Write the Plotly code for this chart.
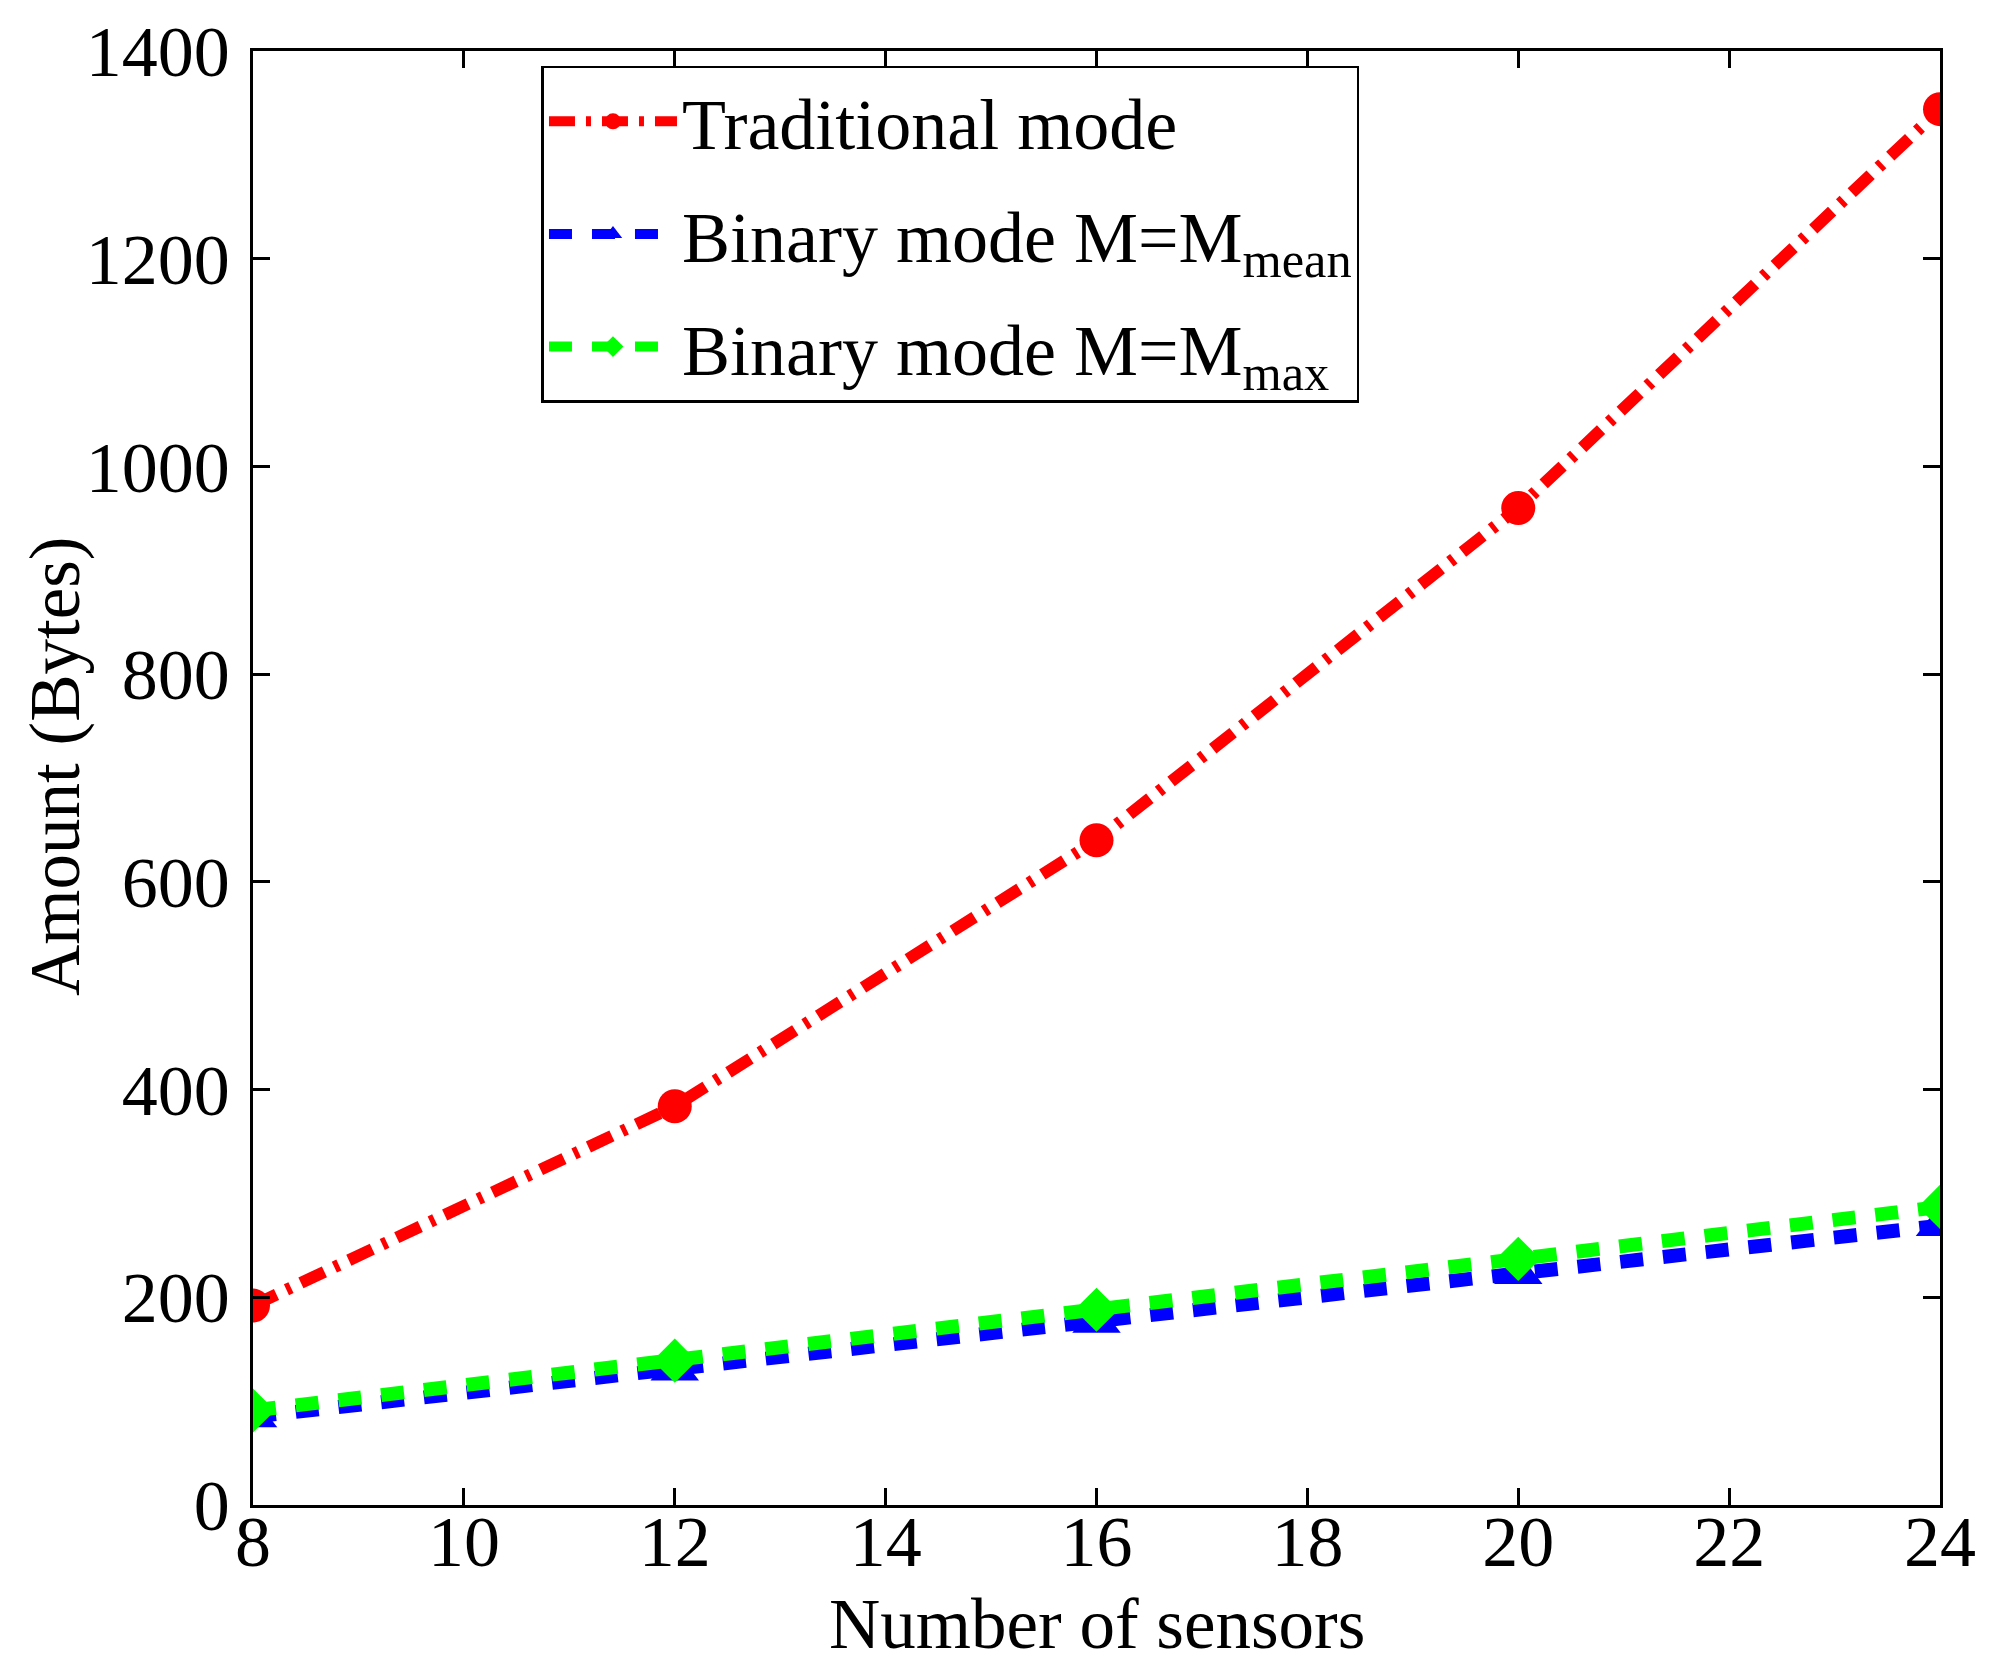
import plotly.graph_objects as go

# data
sensors = [8, 12, 16, 20, 24]
traditional = [192, 384, 640, 960, 1344]
binary_mean = [85, 130, 176, 223, 269]
binary_max = [91, 139, 188, 237, 287]

x_ticks = [8, 10, 12, 14, 16, 18, 20, 22, 24]
y_ticks = [0, 200, 400, 600, 800, 1000, 1200, 1400]

FONT = "Liberation Serif"

fig = go.Figure()

fig.add_trace(go.Scatter(
    x=sensors, y=traditional, mode="lines+markers",
    name="Traditional mode", legendgroup="trad",
    line=dict(color="#ff0000", width=12, dash="26px,11px,5px,11px"),
    marker=dict(symbol="circle", size=34, color="#ff0000"),
))
fig.add_trace(go.Scatter(
    x=sensors, y=binary_mean, mode="lines+markers",
    name="Binary mode M=M<sub>mean</sub>", legendgroup="mean",
    line=dict(color="#0000ff", width=14, dash="23px,20px"),
    marker=dict(symbol="triangle-up", size=42, color="#0000ff"),
))
fig.add_trace(go.Scatter(
    x=sensors, y=binary_max, mode="lines+markers",
    name="Binary mode M=M<sub>max</sub>", legendgroup="max",
    line=dict(color="#00ff00", width=14, dash="23px,20px"),
    marker=dict(symbol="diamond", size=34, color="#00ff00"),
))

axis_common = dict(
    showline=True, linecolor="black", linewidth=2.5, mirror="ticks",
    ticks="inside", ticklen=17, tickwidth=2.5, tickcolor="black",
    showgrid=False, zeroline=False, automargin=False,
    tickfont=dict(family=FONT, size=72, color="black"),
)

fig.update_xaxes(range=[8, 24], tickvals=x_ticks, ticklabelstandoff=-28, **axis_common)
fig.update_yaxes(range=[0, 1400], tickvals=y_ticks, ticklabelstandoff=6, **axis_common)

# axis titles as annotations so they can sit as tight as in the original
fig.add_annotation(
    text="Number of sensors", xref="paper", yref="paper",
    x=0.5, y=-0.082, xanchor="center", yanchor="middle", showarrow=False,
    font=dict(family=FONT, size=71, color="black"),
)
fig.add_annotation(
    text="Amount (Bytes)", xref="paper", yref="paper", textangle=-90,
    x=-0.117, y=0.508, xanchor="center", yanchor="middle", showarrow=False,
    font=dict(family=FONT, size=71, color="black"),
)

fig.update_layout(
    width=2000, height=1662,
    margin=dict(l=245, r=68, t=43, b=165),
    paper_bgcolor="white", plot_bgcolor="white",
    font=dict(family=FONT, size=72, color="black"),
    showlegend=True,
    legend=dict(
        x=0.171, y=0.99, xanchor="left", yanchor="top",
        bgcolor="white", bordercolor="black", borderwidth=2.5,
        font=dict(family=FONT, size=72, color="black"),
        itemwidth=128, tracegroupgap=16,
    ),
)

fig.write_html("out.html")
